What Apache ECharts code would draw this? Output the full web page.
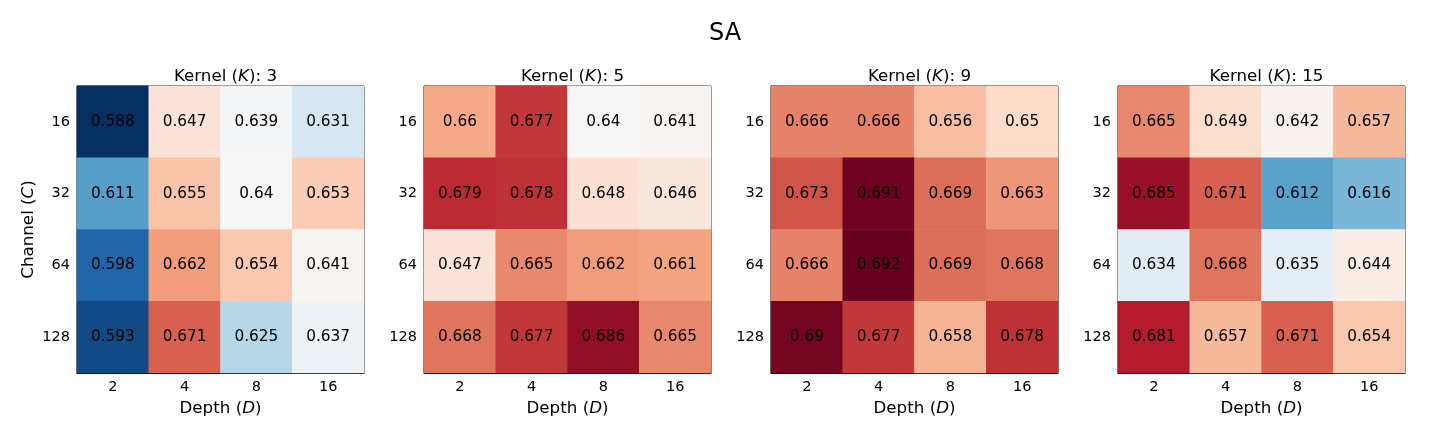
<!DOCTYPE html>
<html>
<head>
<meta charset="utf-8">
<script src="https://cdn.jsdelivr.net/npm/echarts@6/dist/echarts.min.js"></script>
<style>
  html, body { margin: 0; padding: 0; background: #fff; }
  #main { width: 1440px; height: 432px; }
</style>
</head>
<body>
<div id="main"></div>
<script>
// tick labels
var depths = ['2', '4', '8', '16'];
var channels = ['16', '32', '64', '128'];
var kernels = ['3', '5', '9', '15'];

// values per kernel, one row per channel (16, 32, 64, 128), columns are depth (2, 4, 8, 16)
var k3 = [
    [0.588, 0.647, 0.639, 0.631],
    [0.611, 0.655, 0.64, 0.653],
    [0.598, 0.662, 0.654, 0.641],
    [0.593, 0.671, 0.625, 0.637]
];
var k5 = [
    [0.66, 0.677, 0.64, 0.641],
    [0.679, 0.678, 0.648, 0.646],
    [0.647, 0.665, 0.662, 0.661],
    [0.668, 0.677, 0.686, 0.665]
];
var k9 = [
    [0.666, 0.666, 0.656, 0.65],
    [0.673, 0.691, 0.669, 0.663],
    [0.666, 0.692, 0.669, 0.668],
    [0.69, 0.677, 0.658, 0.678]
];
var k15 = [
    [0.665, 0.649, 0.642, 0.657],
    [0.685, 0.671, 0.612, 0.616],
    [0.634, 0.668, 0.635, 0.644],
    [0.681, 0.657, 0.671, 0.654]
];
var tables = [k3, k5, k9, k15];

// RdBu_r
var rdbu = ['#053061', '#2166ac', '#4393c3', '#92c5de', '#d1e5f0', '#f7f7f7',
            '#fddbc7', '#f4a582', '#d6604d', '#b2182b', '#67001f'];

var font = 'DejaVu Sans';
var lefts = [77, 424, 771, 1118];
var size = 287;
var top0 = 86;

var chart = echarts.init(document.getElementById('main'));

var titles = [{
    text: 'SA',
    left: 720,
    top: 17,
    textAlign: 'center',
    textStyle: { fontFamily: font, fontSize: 24, fontWeight: 'normal', color: '#000' }
}];
var grids = [], xAxes = [], yAxes = [], series = [];

var rich = {
    n: { fontFamily: font, fontSize: 16.7, fontWeight: 'normal', color: '#000' },
    i: { fontFamily: font, fontSize: 16.7, fontWeight: 'normal', fontStyle: 'italic', color: '#000' }
};

kernels.forEach(function (k, idx) {
    titles.push({
        text: '{n|Kernel (}{i|K}{n|): ' + k + '}',
        left: lefts[idx] + size / 2,
        top: 63,
        textAlign: 'center',
        textStyle: { fontWeight: 'normal', rich: rich }
    });
    grids.push({
        left: lefts[idx], top: top0, width: size, height: size,
        show: true, borderColor: '#000', borderWidth: 1, backgroundColor: 'transparent'
    });
    xAxes.push({
        type: 'category', gridIndex: idx, data: depths,
        name: '{n|Depth (}{i|D}{n|)}',
        nameLocation: 'middle', nameGap: 27,
        nameTextStyle: { rich: rich },
        axisLine: { lineStyle: { color: '#000', width: 1 } },
        axisTick: { alignWithLabel: true, length: 5, lineStyle: { color: '#000' } },
        axisLabel: { fontFamily: font, fontSize: 14.5, color: '#000', margin: 7 },
        splitLine: { show: false }
    });
    yAxes.push({
        type: 'category', gridIndex: idx, data: channels, inverse: true,
        name: idx === 0 ? '{n|Channel (}{i|C}{n|)}' : '',
        nameLocation: 'middle', nameGap: 40, nameRotate: 90,
        nameTextStyle: { rich: rich },
        axisLine: { lineStyle: { color: '#000', width: 1 } },
        axisTick: { alignWithLabel: true, length: 5, lineStyle: { color: '#000' } },
        axisLabel: { fontFamily: font, fontSize: 14.5, color: '#000', margin: 7 },
        splitLine: { show: false }
    });
    var data = [];
    tables[idx].forEach(function (row, r) {
        row.forEach(function (v, c) {
            data.push([c, r, v]);
        });
    });
    series.push({
        type: 'heatmap', xAxisIndex: idx, yAxisIndex: idx, data: data,
        label: {
            show: true, color: '#000', fontFamily: font, fontSize: 15.3,
            formatter: function (p) { return String(p.value[2]); }
        },
        itemStyle: { borderWidth: 0 },
        emphasis: { disabled: true }
    });
});

var option = {
    animation: false,
    backgroundColor: '#fff',
    title: titles,
    grid: grids,
    xAxis: xAxes,
    yAxis: yAxes,
    visualMap: {
        show: false, type: 'continuous', min: 0.588, max: 0.692,
        seriesIndex: [0, 1, 2, 3], dimension: 2,
        inRange: { color: rdbu }
    },
    series: series
};
chart.setOption(option);
</script>
</body>
</html>
